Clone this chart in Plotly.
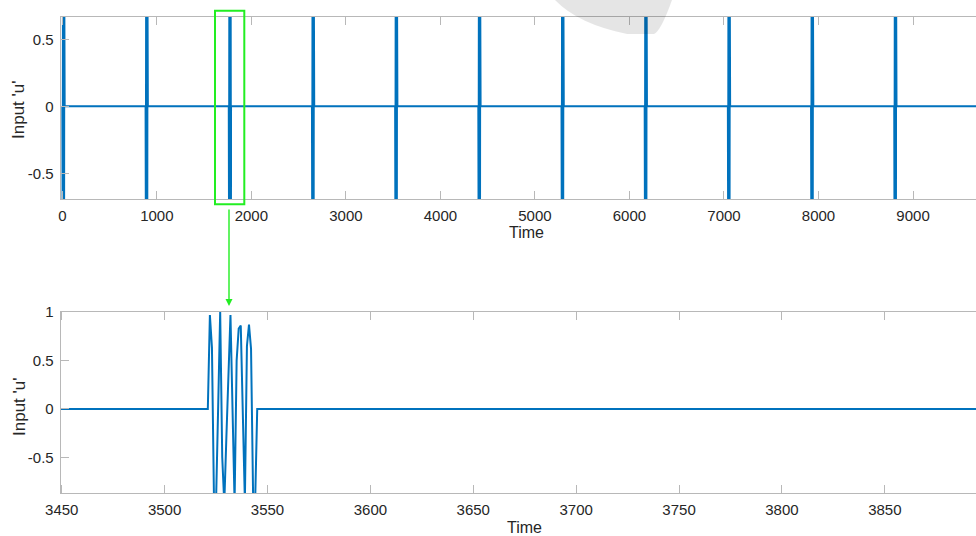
import plotly.graph_objects as go

# ---------------- data ----------------
# zoomed burst (bottom panel): time samples and input values
burst_time = [3521, 3522, 3523, 3524, 3525, 3526, 3527, 3528, 3529, 3530,
              3531, 3532, 3533, 3534, 3535, 3536, 3537, 3538, 3539, 3540,
              3541, 3542, 3543, 3544, 3545]
burst_u = [0.0, 0.97, 0.63, -0.95, -0.95, 0.0, 1.0, -0.5, -0.98, -0.3,
           0.35, 0.97, 0.0, -0.97, 0.5, 0.83, 0.86, -0.2, -0.95, 0.65,
           0.87, 0.62, -0.9, -0.95, 0.0]

# start time of each burst in the full record (top panel)
burst_starts = [1, 881, 1761, 2641, 3521, 4401, 5281, 6161, 7041, 7921, 8801]
record_end = 9700

# window shown in the bottom panel
zoom_window = [3449.5, 3900]

# axis tick labels
top_xticks = [0, 1000, 2000, 3000, 4000, 5000, 6000, 7000, 8000, 9000]
top_yticks = [-0.5, 0, 0.5]
top_ytext = ['-0.5', '0', '0.5']
bot_xticks = [3450, 3500, 3550, 3600, 3650, 3700, 3750, 3800, 3850]
bot_yticks = [-0.5, 0, 0.5, 1]
bot_ytext = ['-0.5', '0', '0.5', '1']

# ---------------- assemble the series ----------------
offsets = [t - burst_time[0] for t in burst_time]
top_t, top_u = [0], [0.0]
for s in burst_starts:
    for o, v in zip(offsets, burst_u):
        top_t.append(s + o)
        top_u.append(v)
top_t.append(record_end)
top_u.append(0.0)

bot_t = [zoom_window[0]] + burst_time + [zoom_window[1]]
bot_u = [0.0] + burst_u + [0.0]

# ---------------- figure ----------------
W, H = 976, 536
def px(x):
    return x / W
def py(y):
    return 1 - y / H

BLUE = '#0072BD'
AX = '#b8b8b8'
TXT = '#262626'
FONT = 'Liberation Sans, Arial, Helvetica, sans-serif'

fig = go.Figure()
fig.add_trace(go.Scatter(x=top_t, y=top_u, mode='lines',
                         line=dict(color=BLUE, width=2), xaxis='x', yaxis='y',
                         showlegend=False, hoverinfo='skip'))
fig.add_trace(go.Scatter(x=bot_t, y=bot_u, mode='lines',
                         line=dict(color=BLUE, width=2), xaxis='x2', yaxis='y2',
                         showlegend=False, hoverinfo='skip'))

axis_common = dict(showline=True, linecolor=AX, linewidth=1, ticks='inside',
                   ticklen=8, tickcolor=AX, tickwidth=1, showgrid=False,
                   zeroline=False, automargin=False,
                   tickfont=dict(family=FONT, size=15, color=TXT))

fig.update_layout(
    width=W, height=H,
    margin=dict(l=0, r=0, t=0, b=0, autoexpand=False),
    paper_bgcolor='white', plot_bgcolor='white',
    xaxis=dict(domain=[px(60.7), 1], range=[-17, 9666], anchor='y',
               tickvals=top_xticks, mirror='ticks', ticklabelstandoff=3,
               **axis_common),
    yaxis=dict(domain=[py(199.3), py(16.7)], range=[-0.694, 0.669], anchor='x',
               tickvals=top_yticks, ticktext=top_ytext, ticklabelstandoff=3,
               **axis_common),
    xaxis2=dict(domain=[px(60.7), 1], range=[3449.5, 3894.3], anchor='y2',
                tickvals=bot_xticks, mirror='ticks', ticklabelstandoff=3,
                **axis_common),
    yaxis2=dict(domain=[py(493.3), py(311.7)], range=[-0.872, 1.004], anchor='x2',
                tickvals=bot_yticks, ticktext=bot_ytext, ticklabelstandoff=3,
                **axis_common),
)

for (x, y, text, ang, size) in [(526, 233, 'Time', 0, 16), (524, 527, 'Time', 0, 16),
                                (19, 110, "Input 'u'", -90, 17),
                                (19, 407, "Input 'u'", -90, 17)]:
    fig.add_annotation(x=px(x), y=py(y), xref='paper', yref='paper', text=text,
                       showarrow=False, textangle=ang,
                       font=dict(family=FONT, size=size, color=TXT),
                       xanchor='center', yanchor='middle')

GREEN = '#22ee22'
# highlight box around one burst
fig.add_shape(type='rect', xref='paper', yref='paper',
              x0=px(215), x1=px(244.3), y0=py(204.3), y1=py(10.7),
              line=dict(color=GREEN, width=2), layer='above')
# arrow to the zoomed panel
fig.add_annotation(x=px(229), y=py(306), xref='paper', yref='paper', text='',
                   showarrow=True, ax=0, ay=-98, arrowhead=2, arrowsize=1,
                   arrowwidth=1.4, arrowcolor=GREEN, standoff=0)

# translucent grey blob at the top
path = (f"M {px(555)},{py(0)} Q {px(578)},{py(24)} {px(627)},{py(34)} "
        f"L {px(654)},{py(34)} Q {px(661)},{py(31)} {px(672)},{py(0)} Z")
fig.add_shape(type='path', path=path, xref='paper', yref='paper',
              fillcolor='rgba(0,0,0,0.10)', line=dict(width=0), layer='above')

fig.write_html('out.html')
